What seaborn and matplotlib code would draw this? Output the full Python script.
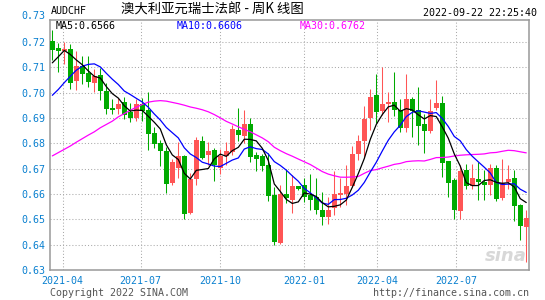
import numpy as np
import pandas as pd
import matplotlib
matplotlib.use("Agg")
import matplotlib.pyplot as plt
import seaborn as sns

# ---------------- data (weekly AUDCHF candles) ----------------
start_week = "2021-03-19"
opens = [0.7205, 0.7174, 0.7163, 0.7170, 0.7045, 0.7104, 0.7075, 0.7039, 0.7068, 0.7007,
         0.6937, 0.6934, 0.6961, 0.6924, 0.6900, 0.6954, 0.6933, 0.6842, 0.6799, 0.6771,
         0.6643, 0.6703, 0.6749, 0.6526, 0.6657, 0.6808, 0.6753, 0.6772, 0.6703, 0.6750,
         0.6766, 0.6851, 0.6829, 0.6874, 0.6753, 0.6749, 0.6713, 0.6595, 0.6408, 0.6599,
         0.6575, 0.6630, 0.6634, 0.6597, 0.6588, 0.6538, 0.6508, 0.6546, 0.6595, 0.6599,
         0.6630, 0.6759, 0.6808, 0.6900, 0.6989, 0.6926, 0.6954, 0.6961, 0.6933, 0.6862,
         0.6976, 0.6933, 0.6874, 0.6847, 0.6937, 0.6957, 0.6729, 0.6654, 0.6532, 0.6693,
         0.6630, 0.6657, 0.6647, 0.6637, 0.6703, 0.6584, 0.6647, 0.6661, 0.6555, 0.6470]
highs = [0.7245, 0.7195, 0.7200, 0.7193, 0.7164, 0.7145, 0.7145, 0.7091, 0.7095, 0.7036,
         0.6976, 0.6980, 0.6983, 0.6957, 0.6974, 0.6979, 0.7003, 0.6864, 0.6812, 0.6786,
         0.6737, 0.6805, 0.6753, 0.6683, 0.6825, 0.6828, 0.6803, 0.6782, 0.6776, 0.6805,
         0.6871, 0.6937, 0.6933, 0.6900, 0.6766, 0.6759, 0.6763, 0.6628, 0.6634, 0.6700,
         0.6674, 0.6630, 0.6661, 0.6680, 0.6661, 0.6608, 0.6588, 0.6691, 0.6664, 0.6713,
         0.6788, 0.6832, 0.6946, 0.7012, 0.7072, 0.7101, 0.7003, 0.7080, 0.6976, 0.7072,
         0.6983, 0.7022, 0.6917, 0.6974, 0.7049, 0.6988, 0.6729, 0.6663, 0.6713, 0.6720,
         0.6720, 0.6726, 0.6696, 0.6720, 0.6716, 0.6736, 0.6713, 0.6693, 0.6562, 0.6537]
lows = [0.7128, 0.7082, 0.7114, 0.7012, 0.7009, 0.7032, 0.7021, 0.7003, 0.6970, 0.6917,
        0.6917, 0.6917, 0.6895, 0.6882, 0.6887, 0.6887, 0.6772, 0.6783, 0.6709, 0.6605,
        0.6634, 0.6661, 0.6503, 0.6522, 0.6637, 0.6736, 0.6713, 0.6651, 0.6680, 0.6713,
        0.6753, 0.6808, 0.6799, 0.6726, 0.6689, 0.6691, 0.6571, 0.6397, 0.6404, 0.6566,
        0.6526, 0.6614, 0.6568, 0.6536, 0.6522, 0.6476, 0.6482, 0.6516, 0.6549, 0.6555,
        0.6628, 0.6733, 0.6742, 0.6851, 0.6878, 0.6911, 0.6884, 0.6908, 0.6845, 0.6845,
        0.6825, 0.6792, 0.6762, 0.6842, 0.6933, 0.6667, 0.6588, 0.6500, 0.6503, 0.6621,
        0.6618, 0.6575, 0.6575, 0.6597, 0.6571, 0.6575, 0.6621, 0.6495, 0.6417, 0.6330]
closes = [0.7167, 0.7163, 0.7171, 0.7038, 0.7103, 0.7072, 0.7042, 0.7064, 0.7005, 0.6934,
          0.6933, 0.6954, 0.6913, 0.6900, 0.6953, 0.6926, 0.6838, 0.6796, 0.6768, 0.6641,
          0.6726, 0.6749, 0.6522, 0.6657, 0.6812, 0.6742, 0.6768, 0.6713, 0.6750, 0.6768,
          0.6855, 0.6832, 0.6874, 0.6746, 0.6739, 0.6709, 0.6591, 0.6411, 0.6599, 0.6582,
          0.6630, 0.6621, 0.6588, 0.6575, 0.6536, 0.6508, 0.6538, 0.6599, 0.6604, 0.6630,
          0.6759, 0.6808, 0.6896, 0.6983, 0.6924, 0.6953, 0.6961, 0.6930, 0.6862, 0.6976,
          0.6926, 0.6867, 0.6847, 0.6929, 0.6957, 0.6722, 0.6645, 0.6536, 0.6689, 0.6630,
          0.6664, 0.6647, 0.6635, 0.6703, 0.6581, 0.6644, 0.6658, 0.6552, 0.6472, 0.6504]

ma5_head = [0.7117, 0.7141, 0.7166, 0.7150]
ma10_head = [0.6989, 0.7012, 0.7039, 0.7064, 0.7088, 0.7104, 0.7111, 0.7113, 0.7101]
ma30_head = [0.6750, 0.6763, 0.6776, 0.6789, 0.6804, 0.6818, 0.6832, 0.6845, 0.6861, 0.6874,
             0.6887, 0.6904, 0.6917, 0.6930, 0.6942, 0.6953, 0.6962, 0.6966, 0.6968, 0.6966,
             0.6961, 0.6956, 0.6950, 0.6943, 0.6938, 0.6932, 0.6924, 0.6913, 0.6900]

ytick_vals = [0.63, 0.64, 0.65, 0.66, 0.67, 0.68, 0.69, 0.70, 0.71, 0.72]
ytick_top = 0.73
xtick_dates = ["2021-03-31", "2021-06-30", "2021-10-01", "2022-01-07", "2022-04-02", "2022-07-03"]
xtick_labels = ["2021-04", "2021-07", "2021-10", "2022-01", "2022-04", "2022-07"]

symbol = "AUDCHF"
title = "澳大利亚元瑞士法郎 - 周K 线图"
timestamp = "2022-09-22 22:25:40"
copyright_txt = "Copyright 2022 SINA.COM"
url_txt = "http://finance.sina.com.cn"

# ---------------- derived ----------------
dates = pd.date_range(start_week, periods=len(closes), freq="7D")
df = pd.DataFrame({"date": dates, "open": opens, "high": highs, "low": lows, "close": closes})
for n, head in ((5, ma5_head), (10, ma10_head), (30, ma30_head)):
    s = df["close"].rolling(n).mean()
    s.iloc[:len(head)] = head
    df[f"ma{n}"] = s

# ---------------- style ----------------
sns.set_style("white")
plt.rcParams["font.family"] = ["DejaVu Sans Mono", "Noto Sans CJK SC"]

RED = "#ff5555"
GREEN = "#00aa00"
BLUE_TXT = "#0a80d0"
GRID = "#aaaaaa"
BORDER = "#999999"

fig = plt.figure(figsize=(5.45, 3.0), dpi=100)
ax = fig.add_axes([50 / 545, 30 / 300, 479 / 545, 250 / 300])

up = df["close"] >= df["open"]
colors = np.where(up, RED, GREEN)

# wicks
ax.vlines(df["date"], df["low"], df["high"], colors=colors, linewidth=0.75, zorder=2)
# bodies
body_bottom = np.minimum(df["open"], df["close"])
body_h = np.maximum(np.abs(df["close"] - df["open"]), 0.0004)
ax.bar(df["date"], body_h, bottom=body_bottom, width=5.6, color=colors, linewidth=0, zorder=3)

# moving averages
sns.lineplot(x=df["date"], y=df["ma30"], ax=ax, color="#ff00ff", linewidth=0.9, zorder=4)
sns.lineplot(x=df["date"], y=df["ma10"], ax=ax, color="#0000ff", linewidth=0.9, zorder=4)
sns.lineplot(x=df["date"], y=df["ma5"], ax=ax, color="black", linewidth=0.9, zorder=5)

ax.set_xlim(dates[0] - pd.Timedelta(days=2.7), dates[-1] + pd.Timedelta(days=3.2))
ax.set_ylim(0.63, 0.7286)
ax.set_xlabel("")
ax.set_ylabel("")

ax.set_yticks(ytick_vals)
ax.set_yticklabels([f"{v:.2f}" for v in ytick_vals])
ax.set_xticks(pd.to_datetime(xtick_dates))
ax.set_xticklabels(xtick_labels)
ax.tick_params(axis="y", length=0, pad=3, labelsize=7.2, labelcolor=BLUE_TXT)
ax.tick_params(axis="x", length=0, pad=4, labelsize=7.2, labelcolor=BLUE_TXT)

ax.grid(True, color=GRID, linestyle=(0, (1, 2)), linewidth=0.75, zorder=0)
ax.set_axisbelow(True)
for side, sp in ax.spines.items():
    sp.set_visible(True)
    sp.set_color(BORDER)
    sp.set_linewidth(1.1)

# 0.73 label above the frame
ax.text(-0.009, ytick_top, f"{ytick_top:.2f}", transform=ax.get_yaxis_transform(),
        ha="right", va="center", fontsize=7.2, color=BLUE_TXT, clip_on=False)

# MA legend row
last = df.iloc[-1]
ax.text(0.012, 0.975, f"MA5:{last['ma5']:.4f}", transform=ax.transAxes, ha="left", va="center",
        fontsize=7.2, color="black")
ax.text(0.265, 0.975, f"MA10:{last['ma10']:.4f}", transform=ax.transAxes, ha="left", va="center",
        fontsize=7.2, color="#0000ff")
ax.text(0.522, 0.975, f"MA30:{last['ma30']:.4f}", transform=ax.transAxes, ha="left", va="center",
        fontsize=7.2, color="#ff00ff")

# watermark
ax.text(0.995, 0.02, "sina", transform=ax.transAxes, ha="right", va="bottom", fontsize=13,
        color="#d8d8d8", fontstyle="italic", fontweight="bold", family="DejaVu Sans", zorder=1)

# header and footer
fig.text(51 / 545, 1 - 11.5 / 300, symbol, ha="left", va="center", fontsize=7.2, color="black")
fig.text(121 / 545, 1 - 10 / 300, title, ha="left", va="center", fontsize=9.6, color="black",
         family=["Noto Sans CJK SC", "DejaVu Sans"])
fig.text(537 / 545, 1 - 12.5 / 300, timestamp, ha="right", va="center", fontsize=7.2, color="black")
fig.text(50 / 545, 1 - 292.7 / 300, copyright_txt, ha="left", va="center", fontsize=7.2, color="#555555")
fig.text(529 / 545, 1 - 292.7 / 300, url_txt, ha="right", va="center", fontsize=7.2, color="#555555")

fig.savefig("out.png", dpi=100)
